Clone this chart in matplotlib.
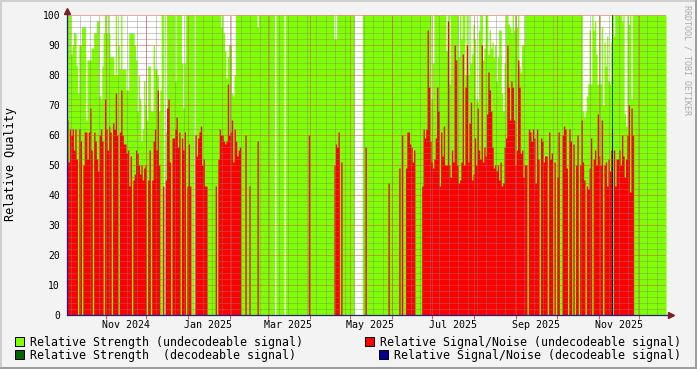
import numpy as np
import pandas as pd
import matplotlib
matplotlib.use('Agg')
import matplotlib.pyplot as plt
import matplotlib.dates as mdates
from matplotlib.patches import Rectangle
from matplotlib.lines import Line2D

plt.rcParams['font.family'] = ['DejaVu Sans Mono']

nan = float('nan')

# one value per day, starting 2024-10-03 (nan = no data)
start_date = '2024-10-03'

# Relative Strength (undecodeable signal)
strength = [
    100, 100, 100, 87, 90, 94, 94, 83, 74, 90,
    90, 96, 96, 96, 65, 85, 85, 85, 89, 89,
    94, 94, 98, 98, 73, 72, 83, 94, 100, 94,
    100, 94, 86, 86, 86, 80, 100, 80, 90, 82,
    100, 82, 82, 82, 75, 75, 94, 94, 94, 94,
    90, 85, 68, 80, 72, 58, 62, 78, 70, 65,
    83, 83, 68, 68, 90, 82, 82, 80, 68, 75,
    100, 100, nan, 61, 100, 100, 100, 100, 100, 100,
    78, 100, 100, 100, 100, 84, 69, 84, 100, 100,
    100, 100, 100, 100, nan, 100, 100, 100, 100, 100,
    100, 100, 100, 100, 100, 100, 100, 100, 100, 100,
    100, 100, 100, 100, 96, 100, 94, 88, 79, 86,
    90, 90, 74, 73, 80, 100, 100, 100, 100, 100,
    100, 100, 100, 100, 100, 100, 100, 100, 100, 100,
    100, 96, 100, 100, 100, 100, 100, 100, 100, 100,
    100, 100, 100, 100, nan, 100, 100, 100, 100, 100,
    100, nan, 100, 100, 100, 100, 100, 100, 100, 100,
    100, 100, 100, 100, 100, 100, 100, 100, 100, 100,
    100, 100, 100, 100, 100, 100, 100, 100, 100, 100,
    100, 100, 100, 100, 100, 100, 100, 100, 92, 92,
    100, 100, 100, 100, 100, 100, 100, 100, 100, 100,
    100, 100, 100, nan, nan, nan, nan, nan, nan, 100,
    100, 100, 100, 100, 100, 100, 100, 100, 100, 100,
    100, 100, 100, 100, 100, 100, 100, 100, 100, 100,
    100, 100, 100, 100, 100, 100, 100, 100, 100, 100,
    100, 100, 100, 100, 100, 100, 100, 100, 100, 100,
    100, 100, 100, 100, 100, 100, 100, 100, 100, 100,
    72, 84, 100, 100, 100, 100, 100, 100, 100, 100,
    100, 88, 100, 77, 100, 100, 100, 100, 100, 100,
    86, 100, 92, 100, 100, 80, 100, 80, 100, 84,
    87, 97, 92, 72, 71, 95, 100, 100, 85, 89,
    100, 100, 87, 95, 89, 91, 86, 90, 78, 86,
    95, 95, 74, 68, 84, 100, 100, 97, 96, 94,
    100, 95, 100, 96, 100, 83, 81, 90, 90, 100,
    100, 100, 100, 100, 100, 100, 100, 100, 100, 100,
    100, 100, 100, 100, 100, 100, 100, 100, 100, 100,
    100, 100, 100, 100, 100, 100, 100, 100, 100, 100,
    100, 100, 100, 100, 100, 100, 100, 100, 100, 100,
    100, 100, 68, 66, 68, 73, 77, 95, 77, 100,
    95, 98, 87, 77, 100, 77, 96, 70, 91, 83,
    93, 78, 77, 91, 100, 93, 100, 100, 100, 100,
    100, 98, 100, 67, 63, 100, 97, 100, 72, 100,
    100, 100, 100, 100, 100, 100, 100, 100, 100, 100,
    100, 100, 100, 100, 100, 100, 100, 100, 100, 100,
    100, 100, 100, 100,
]

# Relative Signal/Noise (undecodeable signal)
snr = [
    65, 51, 62, 60, 62, 55, 62, 52, 0, 62,
    58, 0, 50, 61, 61, 52, 61, 69, 55, 0,
    61, 58, 52, 48, 60, 62, 58, 0, 72, 62,
    55, 63, 61, 0, 64, 62, 74, 60, 0, 61,
    75, 60, 57, 57, 54, 55, 43, 53, 0, 45,
    47, 55, 54, 50, 47, 50, 45, 49, 50, 0,
    45, 55, 0, 45, 58, 62, 55, 75, 50, 0,
    0, 43, nan, 45, 69, 72, 51, 0, 59, 59,
    62, 66, 56, 61, 0, 59, 55, 61, 0, 43,
    57, 43, 0, 0, nan, 60, 53, 59, 61, 63,
    50, 52, 43, 43, 0, 0, 0, 0, 0, 0,
    43, 0, 52, 62, 60, 60, 58, 57, 58, 77,
    60, 61, 65, 51, 62, 58, 53, 55, 56, 0,
    0, 0, 60, 0, 0, 43, 0, 0, 0, 0,
    0, 58, 0, 0, 0, 0, 0, 0, 0, 0,
    0, 0, 0, 0, nan, 0, 0, 0, 0, 0,
    0, nan, 0, 0, 0, 0, 0, 0, 0, 0,
    0, 0, 0, 0, 0, 0, 0, 0, 0, 60,
    0, 0, 0, 0, 0, 0, 0, 0, 0, 0,
    0, 0, 0, 0, 0, 0, 0, 0, 50, 57,
    56, 61, 0, 51, 0, 0, 0, 0, 0, 0,
    0, 0, 0, nan, nan, nan, nan, nan, nan, 0,
    0, 56, 0, 0, 0, 0, 0, 0, 0, 0,
    0, 0, 0, 0, 0, 0, 0, 0, 44, 0,
    0, 0, 0, 0, 0, 0, 49, 0, 60, 0,
    0, 49, 61, 61, 57, 56, 51, 55, 0, 0,
    0, 0, 0, 43, 62, 59, 62, 95, 76, 58,
    51, 49, 52, 59, 76, 68, 43, 61, 53, 63,
    50, 50, 98, 50, 46, 55, 51, 90, 85, 50,
    44, 45, 51, 87, 50, 76, 90, 51, 64, 71,
    45, 47, 59, 50, 69, 55, 52, 90, 51, 56,
    53, 67, 81, 75, 68, 56, 49, 50, 48, 50,
    45, 51, 43, 44, 56, 59, 90, 76, 65, 78,
    76, 65, 50, 55, 85, 76, 54, 55, 46, 50,
    50, 0, 62, 61, 58, 62, 59, 44, 62, 52,
    0, 59, 58, 51, 53, 53, 0, 61, 52, 54,
    0, 51, 0, 46, 61, 0, 0, 60, 63, 62,
    49, 0, 62, 58, 0, 57, 0, 50, 60, 0,
    50, 65, 51, 45, 0, 43, 42, 49, 59, 0,
    52, 55, 50, 67, 53, 50, 65, 0, 50, 51,
    43, 52, 48, 55, 0, 55, 43, 52, 52, 55,
    50, 60, 53, 46, 52, 60, 70, 41, 69, 60,
    0, 0, 0, 0, 0, 0, 0, 0, 0, 0,
    0, 0, 0, 0, 0, 0, 0, 0, 0, 0,
    0, 0, 0, 0,
]

# decodeable signal days
dec_dates = ['2025-11-11']
dec_strength = [100]
dec_snr = [62]

month_labels = ['Nov 2024', 'Jan 2025', 'Mar 2025', 'May 2025',
                'Jul 2025', 'Sep 2025', 'Nov 2025']

legend_entries = [
    ('Relative Strength (undecodeable signal)', '#80FF00'),
    ('Relative Signal/Noise (undecodeable signal)', '#FF0000'),
    ('Relative Strength  (decodeable signal)', '#006400'),
    ('Relative Signal/Noise (decodeable signal)', '#000096'),
]

W, H = 697, 369
fig = plt.figure(figsize=(W / 100, H / 100), dpi=100, facecolor='#F3F3F3')
ax = fig.add_axes([67 / W, 1 - 315 / H, (666 - 67) / W, 300 / H])
ax.set_facecolor('white')

s = np.nan_to_num(np.array(strength, dtype=float))
n = np.nan_to_num(np.array(snr, dtype=float))
edges = mdates.date2num(pd.date_range(start_date, periods=len(s) + 1, freq='D'))

ax.fill_between(edges, 0, np.append(s, s[-1]), step='post', color='#80FF00',
                lw=0, antialiased=False, zorder=1)
dd = mdates.date2num(pd.to_datetime(dec_dates))
ax.bar(dd, dec_strength, width=1.0, align='edge', color='#006400', lw=0, zorder=2)
ax.fill_between(edges, 0, np.append(n, n[-1]), step='post', color='#FF0000',
                lw=0, antialiased=False, zorder=3)
ax.bar(dd, dec_snr, width=1.0, align='edge', color='#000096', lw=0, zorder=4)

x0 = mdates.date2num(pd.Timestamp('2024-10-03 06:00'))
x1 = mdates.date2num(pd.Timestamp('2025-12-21'))
ax.set_xlim(x0, x1)
ax.set_ylim(0, 100)

# grid on top of the data, rrdtool style dotted
dot = (0, (1, 1))
minor_col = (0.5, 0.5, 0.5, 0.4)
major_col = (0.85, 0.3, 0.3, 0.5)
for v in range(2, 101, 2):
    ax.axhline(v, color=major_col if v % 10 == 0 else minor_col, lw=0.72,
               ls=dot, zorder=5, antialiased=False)
weeks = pd.date_range('2024-10-01', '2025-12-31', freq='W-SUN')
months = pd.date_range('2024-10-01', '2025-12-31', freq='MS')
for w in mdates.date2num(weeks):
    if x0 < w < x1:
        ax.axvline(w, color=minor_col, lw=0.72, ls=dot, zorder=5, antialiased=False)
mnum = [m for m in mdates.date2num(months) if x0 < m < x1]
for m in mnum:
    ax.axvline(m, color=major_col, lw=0.72, ls=dot, zorder=5, antialiased=False)

for sp in ax.spines.values():
    sp.set_visible(False)

ax.set_yticks(range(0, 101, 10))
ax.tick_params(axis='y', length=0, pad=5, labelsize=7)
ax.set_xticks(mnum)
ax.set_xticklabels([])
ax.tick_params(axis='x', length=3, width=0.72, color='#DE5050', direction='out')

for lab in month_labels:
    pos = mdates.date2num(pd.to_datetime(lab, format='%b %Y') + pd.Timedelta(days=15))
    ax.text(pos, -13.5 / 300, lab, transform=ax.get_xaxis_transform(),
            ha='center', va='baseline', fontsize=7.2)

fig.text(11 / W, 1 - 164 / H, 'Relative Quality', rotation=90,
         ha='center', va='center', fontsize=8.5)

# axis lines and arrows
axis_col = '#1E1E8C'
fig.add_artist(Line2D([67 / W, 67 / W], [1 - 315 / H, 1 - 10 / H],
                      color=axis_col, lw=0.9, zorder=10))
fig.add_artist(Line2D([67 / W, 671 / W], [1 - 315 / H, 1 - 315 / H],
                      color=axis_col, lw=0.9, zorder=10))
fig.add_artist(Line2D([67 / W], [1 - 10.5 / H], marker='^', markersize=4.5,
                      color='#7F1F1F', lw=0, zorder=11))
fig.add_artist(Line2D([670.5 / W], [1 - 315 / H], marker='>', markersize=4.5,
                      color='#7F1F1F', lw=0, zorder=11))

# legend
box_pos = [(15, 337), (365, 337), (15, 350), (379, 350)]
text_pos = [(30, 346), (380, 346), (30, 359), (394, 359)]
for (label, col), (bx, by), (tx, ty) in zip(legend_entries, box_pos, text_pos):
    fig.add_artist(Rectangle((bx / W, 1 - (by + 9) / H), 9 / W, 9 / H,
                             facecolor=col, edgecolor='black', lw=0.72))
    fig.text(tx / W, 1 - ty / H, label, ha='left', va='baseline', fontsize=8.35)

fig.text(687.5 / W, 1 - 60 / H, 'RRDTOOL / TOBI OETIKER', rotation=270,
         ha='center', va='center', fontsize=6, color='#ABABAB')

# frame shading
fig.add_artist(Rectangle((0, 1 - 2 / H), 1, 2 / H, transform=fig.transFigure,
                         facecolor='#CFCFCF', lw=0))
fig.add_artist(Rectangle((0, 0), 2 / W, 1, transform=fig.transFigure,
                         facecolor='#CFCFCF', lw=0))
fig.add_artist(Rectangle((0, 0), 1, 2 / H, transform=fig.transFigure,
                         facecolor='#9E9E9E', lw=0))
fig.add_artist(Rectangle((1 - 2 / W, 0), 2 / W, 1, transform=fig.transFigure,
                         facecolor='#9E9E9E', lw=0))

fig.savefig('out.png', dpi=100, facecolor=fig.get_facecolor())
